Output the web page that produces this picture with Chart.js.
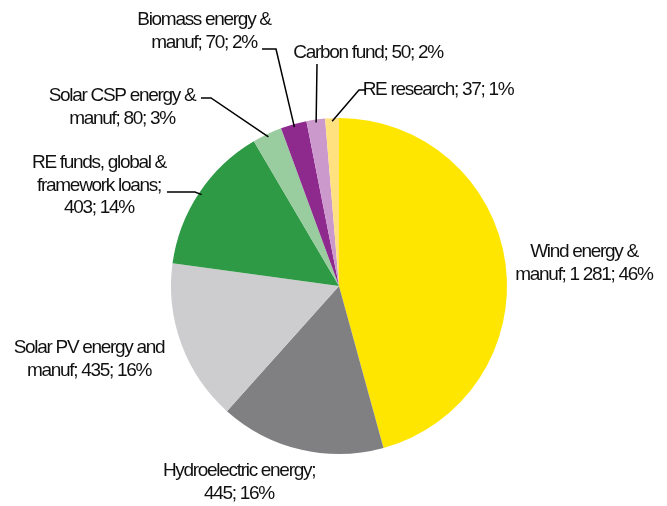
<!DOCTYPE html>
<html>
<head>
<meta charset="utf-8">
<script src="https://cdn.jsdelivr.net/npm/chart.js@4"></script>
<style>
  body { margin: 0; background: #fff; }
  #wrap { width: 667px; height: 506px; position: relative; }
</style>
</head>
<body>
<div id="wrap"><canvas id="pie-chart"></canvas></div>
<script>
var categories = ["Wind energy & manuf", "Hydroelectric energy", "Solar PV energy and manuf",
    "RE funds, global & framework loans", "Solar CSP energy & manuf", "Biomass energy & manuf",
    "Carbon fund", "RE research"];
var values = [1281, 445, 435, 403, 80, 70, 50, 37];
var valueLabels = ["1 281", "445", "435", "403", "80", "70", "50", "37"];
var percents = ["46%", "16%", "16%", "14%", "3%", "2%", "2%", "1%"];
var colors = ["#ffe600", "#808083", "#cdcdcf", "#2e9a45", "#99cc9f", "#8e2a8e", "#cc99cc", "#ffe17f"];

// label text lines, split like the original
var labelLines = [
    ["Wind energy &", "manuf; " + valueLabels[0] + "; " + percents[0]],
    ["Hydroelectric energy;", valueLabels[1] + "; " + percents[1]],
    ["Solar PV energy and", "manuf; " + valueLabels[2] + "; " + percents[2]],
    ["RE funds, global &", "framework loans;", valueLabels[3] + "; " + percents[3]],
    ["Solar CSP energy &", "manuf; " + valueLabels[4] + "; " + percents[4]],
    ["Biomass energy &", "manuf; " + valueLabels[5] + "; " + percents[5]],
    ["Carbon fund; " + valueLabels[6] + "; " + percents[6]],
    ["RE research; " + valueLabels[7] + "; " + percents[7]]
];

// layout: center x, first baseline y, and leader line (start point, elbow point)
var labelPos = [
    { x: 584, y: 257, leader: null },
    { x: 239, y: 476, leader: null },
    { x: 89, y: 353, leader: null },
    { x: 99, y: 168, leader: [[167, 192], [195, 192]] },
    { x: 122, y: 101, leader: [[201, 98], [211, 98]] },
    { x: 204, y: 25, leader: [[262, 49], [276, 49]] },
    { x: 368, y: 58, leader: [[317, 64], [317, 64]] },
    { x: 438, y: 95, leader: [[366, 90], [359, 90]] }
];

var labelPlugin = {
    id: 'outerLabels',
    afterDraw: function(chart) {
        var ctx = chart.ctx;
        var arcs = chart.getDatasetMeta(0).data;
        ctx.save();
        ctx.font = '19px "Liberation Sans", Arial, sans-serif';
        ctx.letterSpacing = '-1.3px';
        ctx.fillStyle = '#111';
        ctx.textAlign = 'center';
        ctx.textBaseline = 'alphabetic';
        labelLines.forEach(function(lines, i) {
            var p = labelPos[i];
            lines.forEach(function(t, j) {
                ctx.fillText(t, p.x, p.y + j * 22.5);
            });
            if (p.leader) {
                var a = arcs[i];
                var mid = (a.startAngle + a.endAngle) / 2;
                var ex = a.x + Math.cos(mid) * (a.outerRadius - 3);
                var ey = a.y + Math.sin(mid) * (a.outerRadius - 3);
                ctx.beginPath();
                ctx.strokeStyle = '#000';
                ctx.lineWidth = 1.5;
                ctx.moveTo(p.leader[0][0], p.leader[0][1]);
                ctx.lineTo(p.leader[1][0], p.leader[1][1]);
                ctx.lineTo(ex, ey);
                ctx.stroke();
            }
        });
        ctx.restore();
    }
};

new Chart(document.getElementById("pie-chart"), {
    type: 'pie',
    data: {
        labels: categories,
        datasets: [{
            data: values,
            backgroundColor: colors,
            borderWidth: 0
        }]
    },
    options: {
        responsive: true,
        maintainAspectRatio: false,
        animation: false,
        layout: { padding: { top: 118, bottom: 52, left: 171, right: 160 } },
        plugins: {
            legend: { display: false },
            tooltip: { enabled: false },
            title: { display: false }
        }
    },
    plugins: [labelPlugin]
});
</script>
</body>
</html>
